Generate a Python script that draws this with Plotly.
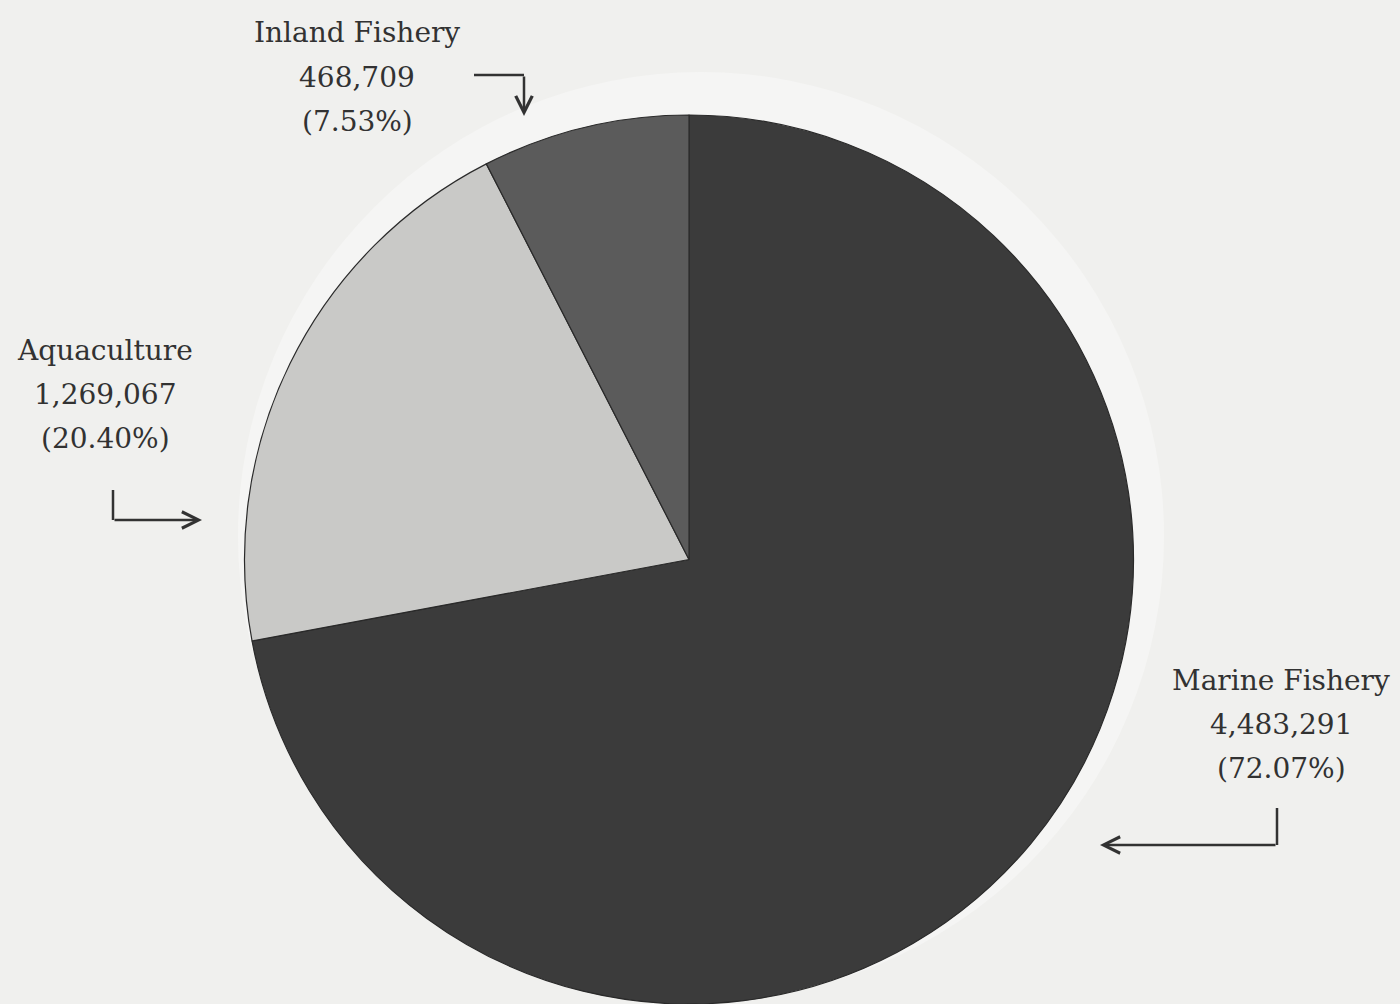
import plotly.graph_objects as go

# ─── Data ─────────────────────────────────────────────────────────────────────

labels = ["Marine Fishery", "Aquaculture", "Inland Fishery"]
values = [4483291, 1269067, 468709]
percents = [72.07, 20.40, 7.53]
colors = ["#3b3b3b", "#c9c9c7", "#5b5b5b"]

_BG = "#f0f0ee"
_INK = "#323232"
_FONT = "DejaVu Serif"

W, H = 1400, 1004

fig = go.Figure(
    go.Pie(
        labels=labels,
        values=values,
        sort=False,
        direction="clockwise",
        rotation=0,
        marker=dict(colors=colors, line=dict(color="#2a2a2a", width=1.2)),
        textinfo="none",
        hoverinfo="label+value+percent",
        domain=dict(x=[244 / W, 1134 / W], y=[0, 1 - 115 / H]),
        showlegend=False,
    )
)

# faint paper glow behind the pie (scan artefact)
fig.add_shape(
    type="circle", xref="paper", yref="paper", layer="below",
    x0=238 / W, x1=1164 / W, y0=1 - 1000 / H, y1=1 - 72 / H,
    fillcolor="#f5f5f4", line=dict(width=0),
)

# label blocks: centre x and top line y (pixels)
label_pos = {
    "Inland Fishery": (357, 33),
    "Aquaculture": (105, 350),
    "Marine Fishery": (1281, 680),
}
line_gap = 44

for lab, val, pct in zip(labels, values, percents):
    cx, cy = label_pos[lab]
    lines = [lab, f"{val:,}", f"({pct:.2f}%)"]
    for i, txt in enumerate(lines):
        fig.add_annotation(
            x=cx / W, y=1 - (cy + i * line_gap) / H,
            xref="paper", yref="paper",
            text=txt, showarrow=False,
            xanchor="center", yanchor="middle",
            font=dict(family=_FONT, size=28, color=_INK),
        )

# elbow leader arrows: (start, corner, tip) in pixels
arrows = [
    ((474, 75), (524, 75), (524, 116)),
    ((113, 490), (113, 520), (202, 520)),
    ((1277, 808), (1277, 845), (1100, 845)),
]
for (x0, y0), (x1, y1), (x2, y2) in arrows:
    fig.add_shape(
        type="line", xref="paper", yref="paper",
        x0=x0 / W, y0=1 - y0 / H, x1=x1 / W, y1=1 - y1 / H,
        line=dict(color=_INK, width=2.5),
    )
    fig.add_annotation(
        x=x2 / W, y=1 - y2 / H, xref="paper", yref="paper",
        ax=x1 - x2, ay=y1 - y2, text="",
        showarrow=True, arrowhead=5, arrowsize=1.3, arrowwidth=2.5,
        arrowcolor=_INK,
    )

fig.update_layout(
    width=W, height=H,
    paper_bgcolor=_BG,
    plot_bgcolor=_BG,
    margin=dict(l=0, r=0, t=0, b=0),
    font=dict(family=_FONT, color=_INK),
)

fig.write_html(
    "out.html",
    config={"displayModeBar": False},
    post_script="document.body.style.margin='0';",
)
